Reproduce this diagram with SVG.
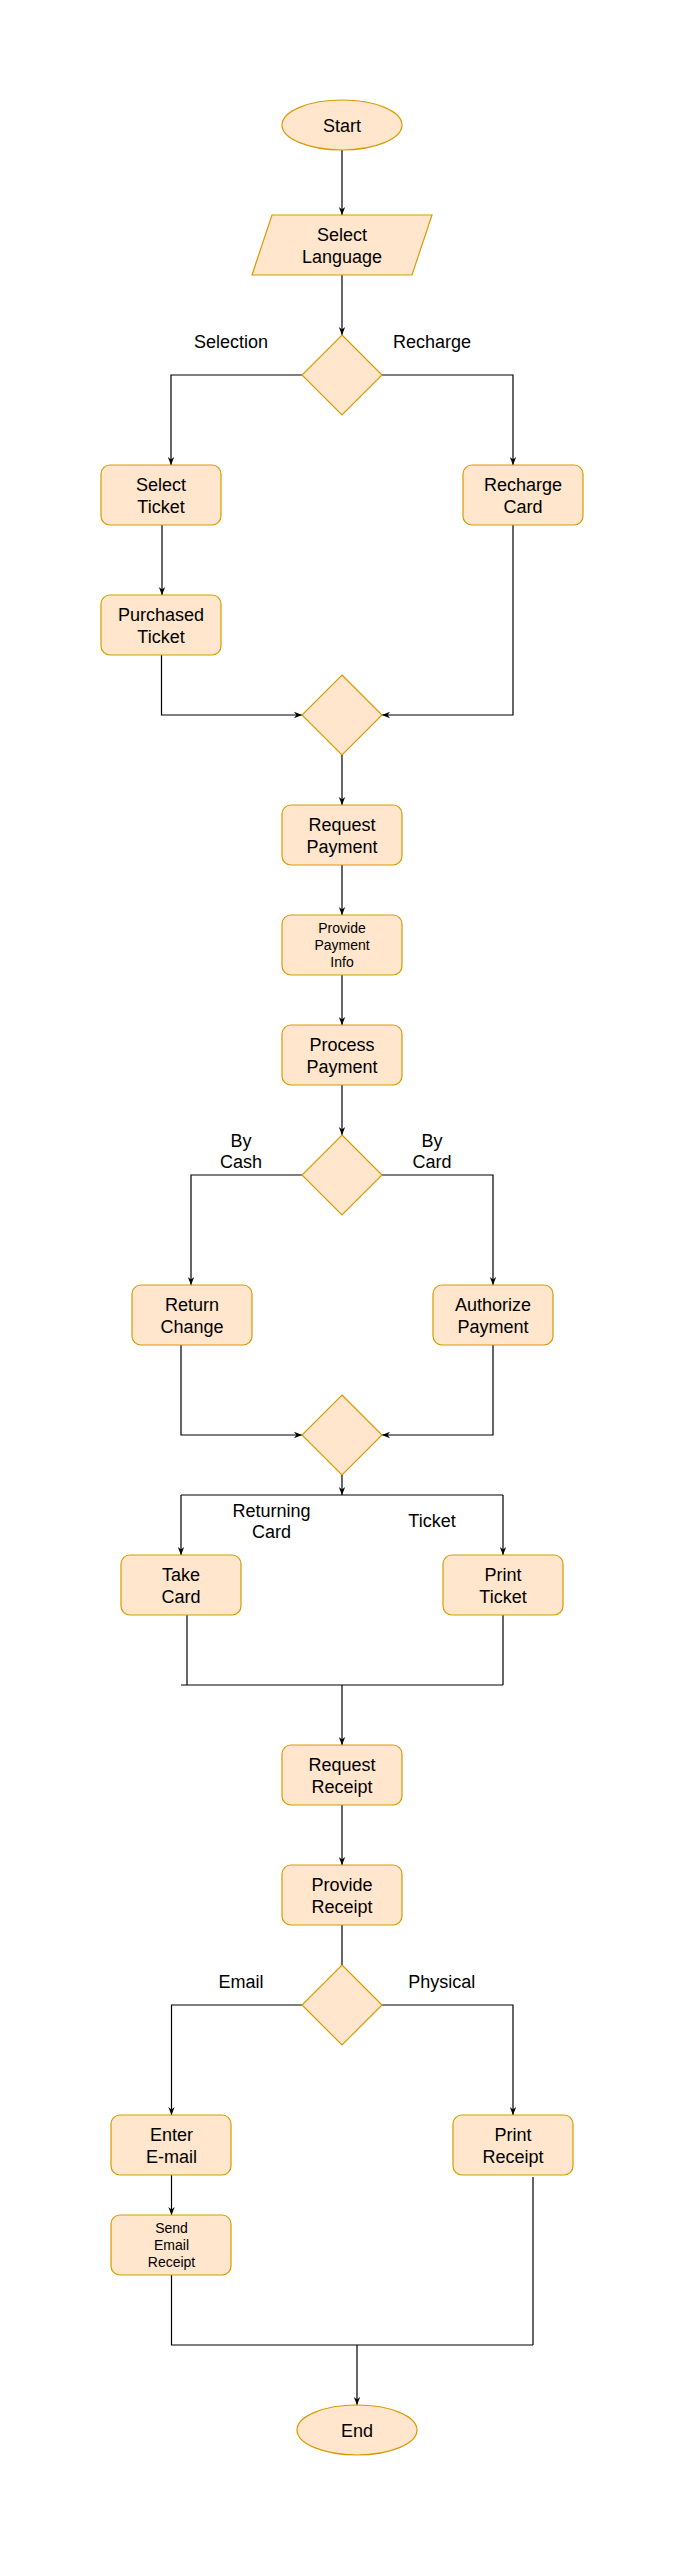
<svg xmlns="http://www.w3.org/2000/svg" width="681" height="2556" viewBox="0 0 681 2556">
<style>
.n{fill:#ffe6cc;stroke:#d79b00;stroke-width:1.2}
.t{font-family:"Liberation Sans",Arial,sans-serif;font-size:18px;fill:#000;text-anchor:middle}
.s{font-size:14px}
.c{fill:none;stroke:#000;stroke-width:1.2}
</style>
<defs>
<marker id="ar" viewBox="0 0 10 10" markerUnits="userSpaceOnUse" markerWidth="8" markerHeight="8" refX="10" refY="5" orient="auto">
<path d="M0,1 L10,5 L0,9 L3,5 Z" fill="#000"/>
</marker>
</defs>
<rect width="681" height="2556" fill="#fff"/>
<g id="connectors">
<path class="c" d="M342,150 V215" marker-end="url(#ar)"/>
<path class="c" d="M342,275 V335" marker-end="url(#ar)"/>
<path class="c" d="M302,375 H171 V465" marker-end="url(#ar)"/>
<path class="c" d="M382,375 H513 V465" marker-end="url(#ar)"/>
<path class="c" d="M162,525 V595" marker-end="url(#ar)"/>
<path class="c" d="M161.5,655 V715 H302" marker-end="url(#ar)"/>
<path class="c" d="M513,525 V715 H382" marker-end="url(#ar)"/>
<path class="c" d="M342,755 V805" marker-end="url(#ar)"/>
<path class="c" d="M342,865 V915" marker-end="url(#ar)"/>
<path class="c" d="M342,975 V1025" marker-end="url(#ar)"/>
<path class="c" d="M342,1085 V1135" marker-end="url(#ar)"/>
<path class="c" d="M302,1175 H191 V1285" marker-end="url(#ar)"/>
<path class="c" d="M382,1175 H493 V1285" marker-end="url(#ar)"/>
<path class="c" d="M181,1345 V1435 H302" marker-end="url(#ar)"/>
<path class="c" d="M493,1345 V1435 H382" marker-end="url(#ar)"/>
<path class="c" d="M342,1475 V1495" marker-end="url(#ar)"/>
<path class="c" d="M181,1495 H503"/>
<path class="c" d="M181,1495 V1555" marker-end="url(#ar)"/>
<path class="c" d="M503,1495 V1555" marker-end="url(#ar)"/>
<path class="c" d="M187,1615 V1685"/>
<path class="c" d="M503,1615 V1685"/>
<path class="c" d="M181,1685 H503"/>
<path class="c" d="M342,1685 V1745" marker-end="url(#ar)"/>
<path class="c" d="M342,1805 V1865" marker-end="url(#ar)"/>
<path class="c" d="M342,1925 V1965"/>
<path class="c" d="M302,2005 H171.5 V2115" marker-end="url(#ar)"/>
<path class="c" d="M382,2005 H513 V2115" marker-end="url(#ar)"/>
<path class="c" d="M171.5,2175 V2215" marker-end="url(#ar)"/>
<path class="c" d="M171.5,2275 V2345 H533"/>
<path class="c" d="M533,2177 V2345"/>
<path class="c" d="M357,2345 V2405" marker-end="url(#ar)"/>
</g>
<g id="start"><ellipse class="n" cx="342" cy="125" rx="60" ry="25"/><text class="t" x="342" y="131.5">Start</text></g>
<g id="select-language"><polygon class="n" points="272,215 432,215 412,275 252,275"/><text class="t" x="342" y="241">Select</text><text class="t" x="342" y="263">Language</text></g>
<g id="decision-1"><polygon class="n" points="342,335 382,375 342,415 302,375"/></g>
<g id="label-selection"><text class="t" x="231" y="347.5">Selection</text></g>
<g id="label-recharge"><text class="t" x="432" y="347.5">Recharge</text></g>
<g id="select-ticket"><rect class="n" x="101" y="465" width="120" height="60" rx="9"/><text class="t" x="161" y="491">Select</text><text class="t" x="161" y="513">Ticket</text></g>
<g id="recharge-card"><rect class="n" x="463" y="465" width="120" height="60" rx="9"/><text class="t" x="523" y="491">Recharge</text><text class="t" x="523" y="513">Card</text></g>
<g id="purchased-ticket"><rect class="n" x="101" y="595" width="120" height="60" rx="9"/><text class="t" x="161" y="621">Purchased</text><text class="t" x="161" y="643">Ticket</text></g>
<g id="decision-2"><polygon class="n" points="342,675 382,715 342,755 302,715"/></g>
<g id="request-payment"><rect class="n" x="282" y="805" width="120" height="60" rx="9"/><text class="t" x="342" y="831">Request</text><text class="t" x="342" y="853">Payment</text></g>
<g id="provide-payment-info"><rect class="n" x="282" y="915" width="120" height="60" rx="9"/><text class="t s" x="342" y="933.3">Provide</text><text class="t s" x="342" y="950">Payment</text><text class="t s" x="342" y="966.7">Info</text></g>
<g id="process-payment"><rect class="n" x="282" y="1025" width="120" height="60" rx="9"/><text class="t" x="342" y="1051">Process</text><text class="t" x="342" y="1073">Payment</text></g>
<g id="decision-3"><polygon class="n" points="342,1135 382,1175 342,1215 302,1175"/></g>
<g id="label-by-cash"><text class="t" x="241" y="1146.5">By</text><text class="t" x="241" y="1168.2">Cash</text></g>
<g id="label-by-card"><text class="t" x="432" y="1146.5">By</text><text class="t" x="432" y="1168.2">Card</text></g>
<g id="return-change"><rect class="n" x="132" y="1285" width="120" height="60" rx="9"/><text class="t" x="192" y="1311">Return</text><text class="t" x="192" y="1333">Change</text></g>
<g id="authorize-payment"><rect class="n" x="433" y="1285" width="120" height="60" rx="9"/><text class="t" x="493" y="1311">Authorize</text><text class="t" x="493" y="1333">Payment</text></g>
<g id="decision-4"><polygon class="n" points="342,1395 382,1435 342,1475 302,1435"/></g>
<g id="label-returning-card"><text class="t" x="271.5" y="1516.5">Returning</text><text class="t" x="271.5" y="1538.2">Card</text></g>
<g id="label-ticket"><text class="t" x="432" y="1527">Ticket</text></g>
<g id="take-card"><rect class="n" x="121" y="1555" width="120" height="60" rx="9"/><text class="t" x="181" y="1581">Take</text><text class="t" x="181" y="1603">Card</text></g>
<g id="print-ticket"><rect class="n" x="443" y="1555" width="120" height="60" rx="9"/><text class="t" x="503" y="1581">Print</text><text class="t" x="503" y="1603">Ticket</text></g>
<g id="request-receipt"><rect class="n" x="282" y="1745" width="120" height="60" rx="9"/><text class="t" x="342" y="1771">Request</text><text class="t" x="342" y="1793">Receipt</text></g>
<g id="provide-receipt"><rect class="n" x="282" y="1865" width="120" height="60" rx="9"/><text class="t" x="342" y="1891">Provide</text><text class="t" x="342" y="1913">Receipt</text></g>
<g id="decision-5"><polygon class="n" points="342,1965 382,2005 342,2045 302,2005"/></g>
<g id="label-email"><text class="t" x="241" y="1987.5">Email</text></g>
<g id="label-physical"><text class="t" x="441.7" y="1987.5">Physical</text></g>
<g id="enter-email"><rect class="n" x="111" y="2115" width="120" height="60" rx="9"/><text class="t" x="171.5" y="2141">Enter</text><text class="t" x="171.5" y="2163">E-mail</text></g>
<g id="print-receipt"><rect class="n" x="453" y="2115" width="120" height="60" rx="9"/><text class="t" x="513" y="2141">Print</text><text class="t" x="513" y="2163">Receipt</text></g>
<g id="send-email-receipt"><rect class="n" x="111" y="2215" width="120" height="60" rx="9"/><text class="t s" x="171.5" y="2233.3">Send</text><text class="t s" x="171.5" y="2250">Email</text><text class="t s" x="171.5" y="2266.7">Receipt</text></g>
<g id="end"><ellipse class="n" cx="357" cy="2430" rx="60" ry="25"/><text class="t" x="357" y="2436.5">End</text></g>
</svg>
